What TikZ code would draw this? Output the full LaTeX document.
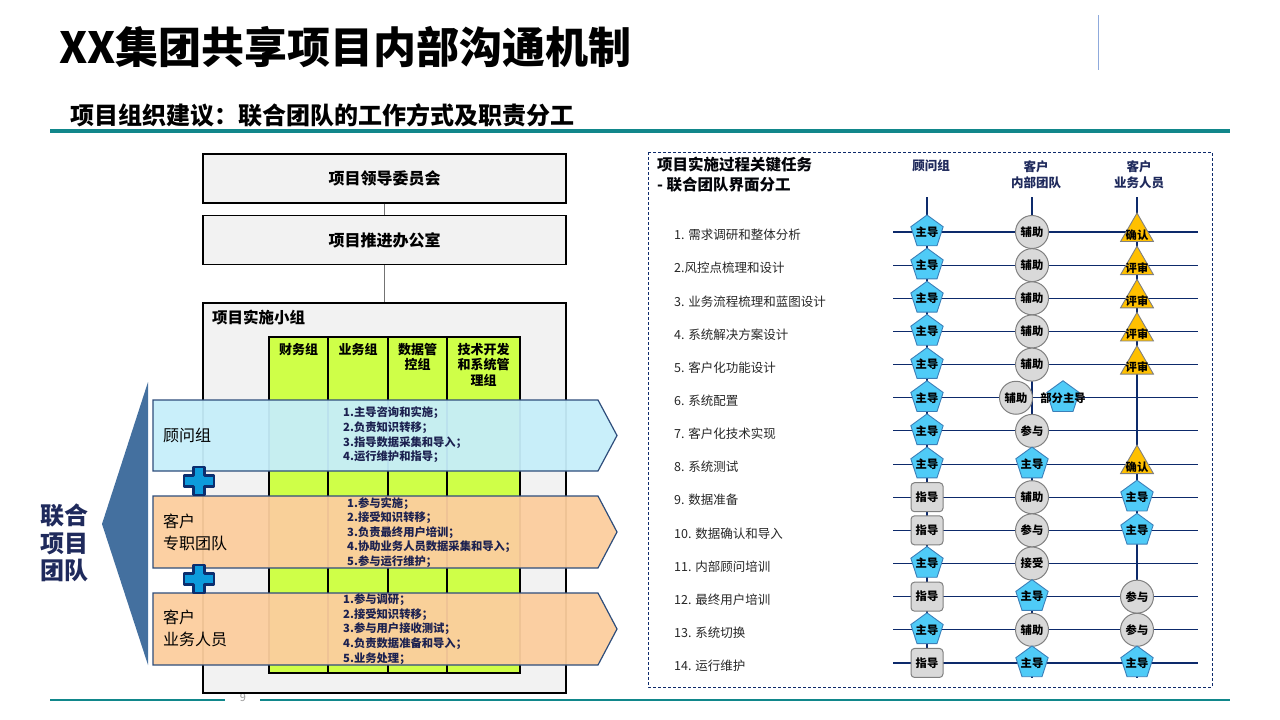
\documentclass[tikz,border=0pt]{standalone}
\usepackage{fontspec}
\setmainfont{Noto Sans CJK SC}
\usetikzlibrary{shapes.geometric}
\definecolor{boxgray}{HTML}{F2F2F2}
\definecolor{colgreen}{HTML}{CFFF48}
\definecolor{arrblue}{HTML}{C6EEFA}
\definecolor{peach}{HTML}{FCCE9E}
\definecolor{arredge}{HTML}{2E4D7B}
\definecolor{plusfill}{HTML}{0C9BDC}
\definecolor{plusedge}{HTML}{0B2E6F}
\definecolor{chevron}{HTML}{44709F}
\definecolor{navy}{HTML}{1F2A5C}
\definecolor{listtxt}{HTML}{1C2150}
\definecolor{teal}{HTML}{11878B}
\definecolor{grid}{HTML}{0D2A6B}
\definecolor{pentfill}{HTML}{4FCBF7}
\definecolor{pentedge}{HTML}{3C7FB8}
\definecolor{cgray}{HTML}{D9D9D9}
\definecolor{cedge}{HTML}{808080}
\definecolor{trifill}{HTML}{FFC000}
\definecolor{topline}{HTML}{8FAADC}
\newcommand{\tshape}[5]{\node[#2] (#1) at (#3) {};\node[shapetxt] at (#1.center) {#5};}
\newcommand{\ttri}[4]{\node[tri] (#1) at (#2) {};\node[shapetxt,yshift=-3pt] at (#1.center) {#4};}
\begin{document}
\begin{tikzpicture}[x=1pt,y=-1pt,
  graybox/.style={draw=black,line width=1.3,fill=boxgray,minimum width=363,minimum height=49,inner sep=0,font=\bfseries\fontsize{16}{19}\selectfont},
  colbox/.style={draw=black,line width=1.2,fill=colgreen},
  colhead/.style={anchor=north,align=center,inner sep=0,font=\bfseries\fontsize{13}{15.5}\selectfont},
  arrowshape/.style={draw=arredge,line width=1.2,fill opacity=0.95},
  armlabel/.style={anchor=west,align=left,inner sep=0,font=\fontsize{16}{22}\selectfont},
  armlist/.style={anchor=west,align=left,inner sep=0,text=listtxt,font=\bfseries\fontsize{11.3}{14.6}\selectfont},
  plussign/.style={fill=plusfill,draw=plusedge,line width=2.5,line join=round},
  gridline/.style={draw=grid,line width=1.1},
  lead/.style={regular polygon,regular polygon sides=5,minimum size=34,inner sep=0,fill=pentfill,draw=pentedge,line width=0.9},
  assist/.style={circle,minimum size=33,inner sep=0,fill=cgray,draw=cedge,line width=1},
  guide/.style={rectangle,rounded corners=3.5,minimum width=32,minimum height=29,inner sep=0,fill=cgray,draw=cedge,line width=1},
  tri/.style={regular polygon,regular polygon sides=3,minimum size=38,inner sep=0,fill=trifill,draw=cedge,line width=0.9},
  shapetxt/.style={inner sep=0,font=\bfseries\fontsize{11.3}{12}\selectfont},
  tasklabel/.style={anchor=west,inner sep=0,text=black!85,font=\fontsize{12.5}{15}\selectfont},
  colhdr/.style={anchor=north,align=center,inner sep=0,text=navy,font=\bfseries\fontsize{12.5}{16}\selectfont}
]
\useasboundingbox (0,0) rectangle (1280,720);

% ---------- title area ----------
\node[anchor=west,inner sep=0,font=\bfseries\fontsize{43}{48}\selectfont] (title) at (59,47) {XX集团共享项目内部沟通机制};
\coordinate (vt) at (1098,15); \coordinate (vb) at (1098,70);
\draw[topline,line width=1] (vt) -- (vb);
\node[anchor=west,inner sep=0,font=\bfseries\fontsize{24}{28}\selectfont] (subtitle) at (70,115) {项目组织建议：联合团队的工作方式及职责分工};
\coordinate (tl1) at (50,131); \coordinate (tl2) at (1230,131);
\draw[teal,line width=4] (tl1) -- (tl2);
\coordinate (bl1) at (50,700); \coordinate (bl2) at (225,700);
\coordinate (bl3) at (260,700); \coordinate (bl4) at (1230,700);
\draw[teal,line width=1.5] (bl1) -- (bl2) (bl3) -- (bl4);
\node[inner sep=0,text=black!40,font=\fontsize{11}{12}\selectfont] (pg) at (243,698) {9};

% ---------- left organisation ----------
\node[graybox] (lead1) at (384.5,178.5) {项目领导委员会};
\node[graybox] (office) at (384.5,240) {项目推进办公室};
\node[draw=black,line width=1.3,fill=boxgray,minimum width=363,minimum height=390,inner sep=0] (impl) at (384.5,498) {};
\draw[black!55,line width=1] (lead1.south) -- (office.north);
\draw[black!55,line width=1] (office.south) -- (impl.north);
\node[anchor=west,inner sep=0,font=\bfseries\fontsize{15.5}{18}\selectfont] (impltitle) at (212,318) {项目实施小组};

\draw[colbox] (269,337) rectangle (328,673);
\draw[colbox] (328,337) rectangle (388,673);
\draw[colbox] (388,337) rectangle (447,673);
\draw[colbox] (447,337) rectangle (520,673);
\node[colhead] (h1) at (298.5,343) {财务组};
\node[colhead] (h2) at (358,343) {业务组};
\node[colhead] (h3) at (417.5,343) {数据管\\控组};
\node[colhead] (h4) at (483.5,343) {技术开发\\和系统管\\理组};

% chevron arrows
\draw[arrowshape,fill=arrblue] (153,400) -- (598,400) -- (617,435.5) -- (598,471) -- (153,471) -- cycle;
\draw[arrowshape,fill=peach] (153,496) -- (598,496) -- (617,532) -- (598,568) -- (153,568) -- cycle;
\draw[arrowshape,fill=peach] (153,593) -- (598,593) -- (617,629) -- (598,665) -- (153,665) -- cycle;

\node[armlabel] (a1) at (163,435) {顾问组};
\node[armlabel] (a2) at (163,532) {客户\\专职团队};
\node[armlabel] (a3) at (163,628) {客户\\业务人员};

\node[armlist] (l1) at (343,435) {1.主导咨询和实施；\\2.负责知识转移；\\3.指导数据采集和导入；\\4.运行维护和指导；};
\node[armlist] (l2) at (347,532.5) {1.参与实施；\\2.接受知识转移；\\3.负责最终用户培训；\\4.协助业务人员数据采集和导入；\\5.参与运行维护；};
\node[armlist] (l3) at (343,629) {1.参与调研；\\2.接受知识转移；\\3.参与用户接收测试；\\4.负责数据准备和导入；\\5.业务处理；};

% plus signs
\draw[plussign] (199,481) ++(-5.5,-14) -- ++(11,0) -- ++(0,8.5) -- ++(9.5,0) -- ++(0,11) -- ++(-9.5,0) -- ++(0,8.5) -- ++(-11,0) -- ++(0,-8.5) -- ++(-9.5,0) -- ++(0,-11) -- ++(9.5,0) -- cycle;
\draw[plussign] (199,579) ++(-5.5,-14) -- ++(11,0) -- ++(0,8.5) -- ++(9.5,0) -- ++(0,11) -- ++(-9.5,0) -- ++(0,8.5) -- ++(-11,0) -- ++(0,-8.5) -- ++(-9.5,0) -- ++(0,-11) -- ++(9.5,0) -- cycle;

% big left chevron
\fill[chevron] (148,382) -- (148,665) -- (102,524) -- cycle;
\node[align=center,inner sep=0,text=navy,font=\bfseries\fontsize{24}{27.5}\selectfont] (joint) at (64,543) {联合\\项目\\团队};

% ---------- right panel ----------
\draw[grid,line width=0.8,dash pattern=on 3pt off 2pt] (648,152) rectangle (1212,687);
\node[anchor=north west,align=left,inner sep=0,text=black!90!navy,font=\bfseries\fontsize{15.5}{20}\selectfont] (rtitle) at (657,157) {项目实施过程关键任务\\ - 联合团队界面分工};
\node[colhdr] (ch1) at (931,160) {顾问组};
\node[colhdr] (ch2) at (1036,160) {客户\\内部团队};
\node[colhdr] (ch3) at (1139,160) {客户\\业务人员};

\coordinate (C1t) at (927,197); \coordinate (C1b) at (927,678);
\coordinate (C2t) at (1032,197); \coordinate (C2b) at (1032,678);
\coordinate (C3t) at (1137,197); \coordinate (C3b) at (1137,678);
\coordinate (C2s) at (1016,197); \coordinate (C2p) at (1063,197);
\draw[gridline] (C1t) -- (C1b);
\draw[gridline] (C2t) -- (C2b);
\draw[gridline] (C3t) -- (C3b);

\foreach \i/\lab in {1/{1. 需求调研和整体分析},2/{2.风控点梳理和设计},3/{3. 业务流程梳理和蓝图设计},4/{4. 系统解决方案设计},5/{5. 客户化功能设计},6/{6. 系统配置},7/{7. 客户化技术实现},8/{8. 系统测试},9/{9. 数据准备},10/{10. 数据确认和导入},11/{11. 内部顾问培训},12/{12. 最终用户培训},13/{13. 系统切换},14/{14. 运行维护}}{
  \pgfmathsetmacro\ry{232+(\i-1)*33.15}
  \coordinate (L\i) at (893,\ry);
  \coordinate (R\i) at (1198,\ry);
  \draw[gridline] (L\i) -- (R\i);
  \node[tasklabel] (t\i) at (674,\ry+3) {\lab};
}

% row 1-5
\tshape{a11}{lead}{C1t |- L1}{}{主导}
\tshape{a12}{assist}{C2t |- L1}{}{辅助}
\ttri{a13}{C3t |- L1}{}{确认}
\tshape{a21}{lead}{C1t |- L2}{}{主导}
\tshape{a22}{assist}{C2t |- L2}{}{辅助}
\ttri{a23}{C3t |- L2}{}{评审}
\tshape{a31}{lead}{C1t |- L3}{}{主导}
\tshape{a32}{assist}{C2t |- L3}{}{辅助}
\ttri{a33}{C3t |- L3}{}{评审}
\tshape{a41}{lead}{C1t |- L4}{}{主导}
\tshape{a42}{assist}{C2t |- L4}{}{辅助}
\ttri{a43}{C3t |- L4}{}{评审}
\tshape{a51}{lead}{C1t |- L5}{}{主导}
\tshape{a52}{assist}{C2t |- L5}{}{辅助}
\ttri{a53}{C3t |- L5}{}{评审}
% row 6
\tshape{a61}{lead}{C1t |- L6}{}{主导}
\tshape{a62}{assist}{C2s |- L6}{}{辅助}
\tshape{a63}{lead}{C2p |- L6}{}{部分主导}
% row 7
\tshape{a71}{lead}{C1t |- L7}{}{主导}
\tshape{a72}{assist}{C2t |- L7}{}{参与}
% row 8
\tshape{a81}{lead}{C1t |- L8}{}{主导}
\tshape{a82}{lead}{C2t |- L8}{}{主导}
\ttri{a83}{C3t |- L8}{}{确认}
% row 9
\tshape{a91}{guide}{C1t |- L9}{}{指导}
\tshape{a92}{assist}{C2t |- L9}{}{辅助}
\tshape{a93}{lead}{C3t |- L9}{}{主导}
% row 10
\tshape{b01}{guide}{C1t |- L10}{}{指导}
\tshape{b02}{assist}{C2t |- L10}{}{参与}
\tshape{b03}{lead}{C3t |- L10}{}{主导}
% row 11
\tshape{b11}{lead}{C1t |- L11}{}{主导}
\tshape{b12}{assist}{C2t |- L11}{}{接受}
% row 12
\tshape{b21}{guide}{C1t |- L12}{}{指导}
\tshape{b22}{lead}{C2t |- L12}{}{主导}
\tshape{b23}{assist}{C3t |- L12}{}{参与}
% row 13
\tshape{b31}{lead}{C1t |- L13}{}{主导}
\tshape{b32}{assist}{C2t |- L13}{}{辅助}
\tshape{b33}{assist}{C3t |- L13}{}{参与}
% row 14
\tshape{b41}{guide}{C1t |- L14}{}{指导}
\tshape{b42}{lead}{C2t |- L14}{}{主导}
\tshape{b43}{lead}{C3t |- L14}{}{主导}
\end{tikzpicture}
\end{document}
